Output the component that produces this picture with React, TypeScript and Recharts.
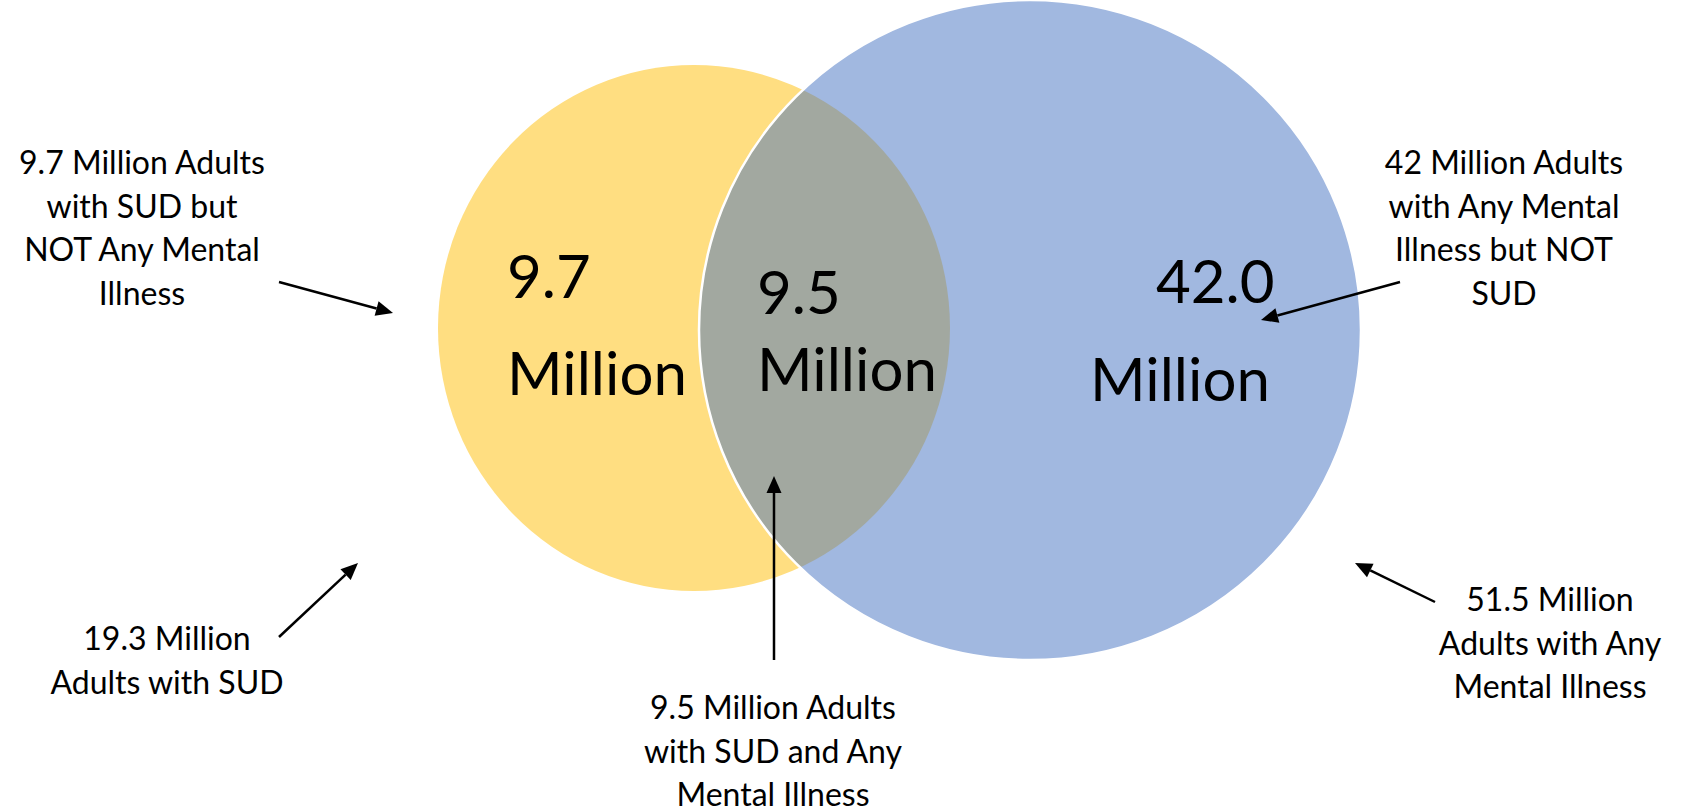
import React from 'react';
import { ScatterChart, Scatter, XAxis, YAxis } from 'recharts';

const W = 1683;
const H = 806;
const FONT = 'Lato, "Open Sans", sans-serif';

// Venn sets: SUD (yellow) and Any Mental Illness (blue)
const setNames = ['SUD', 'Any Mental Illness'];
const setCx = [694, 1030];
const setCy = [328, 330];
const setRx = [256, 331];
const setRy = [263, 330];
const setColors = ['#FFDE81', '#A1B8E0'];
const overlapColor = '#A2A8A0';

// Values shown inside regions
const regionValues = ['9.7', '9.5', '42.0'];
const regionUnit = 'Million';
const regionValueX = [507, 757, 1156];
const regionValueY = [298, 314, 303];
const regionUnitX = [507, 757, 1090];
const regionUnitY = [395, 391, 401];
const regionFont = [60, 60, 60];

// Callout labels
const calloutLines = [
  ['9.7 Million Adults', 'with SUD but', 'NOT Any Mental', 'Illness'],
  ['19.3 Million', 'Adults with SUD'],
  ['9.5 Million Adults', 'with SUD and Any', 'Mental Illness'],
  ['42 Million Adults', 'with Any Mental', 'Illness but NOT', 'SUD'],
  ['51.5 Million', 'Adults with Any', 'Mental Illness'],
];
const calloutX = [142, 167, 773, 1504, 1550];
const calloutY = [174, 650, 719, 174, 611];

// Arrows: tail -> tip
const arrowTailX = [279, 279, 774, 1400, 1435];
const arrowTailY = [282, 637, 660, 282, 602];
const arrowTipX = [393, 358, 774, 1261, 1355];
const arrowTipY = [313, 563, 476, 320, 563];

const setData = setNames.map((name, i) => ({
  name, x: setCx[i], y: setCy[i], rx: setRx[i], ry: setRy[i], fill: setColors[i],
}));
const overlapData = [{
  x: setCx[0], y: setCy[0], rx: setRx[0], ry: setRy[0],
  ox: setCx[1], oy: setCy[1], orx: setRx[1], ory: setRy[1],
}];
const outlineData = [setData[1]];
const valueData = regionValues.map((v, i) => ({
  x: regionValueX[i], y: regionValueY[i], text: v, size: regionFont[i],
}));
const unitData = regionValues.map((v, i) => ({
  x: regionUnitX[i], y: regionUnitY[i], text: regionUnit, size: regionFont[i],
}));
const calloutData = calloutLines.map((lines, i) => ({
  x: calloutX[i], y: calloutY[i], lines,
}));
const arrowData = arrowTailX.map((x, i) => ({
  x, y: arrowTailY[i], tx: arrowTipX[i], ty: arrowTipY[i],
}));

const SetShape = (p: any) => (
  <ellipse cx={p.cx} cy={p.cy} rx={p.payload.rx} ry={p.payload.ry} fill={p.payload.fill} />
);

const OverlapShape = (p: any) => {
  const d = p.payload;
  const ocx = p.cx + (d.ox - d.x);
  const ocy = p.cy + (d.oy - d.y);
  return (
    <g>
      <defs>
        <clipPath id="venn-overlap-clip">
          <ellipse cx={ocx} cy={ocy} rx={d.orx} ry={d.ory} />
        </clipPath>
      </defs>
      <ellipse cx={p.cx} cy={p.cy} rx={d.rx} ry={d.ry} fill={overlapColor} clipPath="url(#venn-overlap-clip)" />
    </g>
  );
};

const OutlineShape = (p: any) => (
  <ellipse cx={p.cx} cy={p.cy} rx={p.payload.rx} ry={p.payload.ry} fill="none" stroke="#FFFFFF" strokeWidth={2.5} />
);

const BigTextShape = (p: any) => (
  <text x={p.cx} y={p.cy} fontFamily={FONT} fontSize={p.payload.size} fill="#000" textAnchor="start">
    {p.payload.text}
  </text>
);

const CalloutShape = (p: any) => (
  <text x={p.cx} y={p.cy} fontFamily={FONT} fontSize={32} fill="#000" textAnchor="middle">
    {p.payload.lines.map((l: string, i: number) => (
      <tspan key={i} x={p.cx} dy={i === 0 ? 0 : 43.5}>{l}</tspan>
    ))}
  </text>
);

const ArrowShape = (p: any) => {
  const d = p.payload;
  const x1 = p.cx;
  const y1 = p.cy;
  const x2 = p.cx + (d.tx - d.x);
  const y2 = p.cy + (d.ty - d.y);
  const len = Math.hypot(x2 - x1, y2 - y1);
  const ux = (x2 - x1) / len;
  const uy = (y2 - y1) / len;
  const hl = 17;
  const hw = 7.5;
  const bx = x2 - ux * hl;
  const by = y2 - uy * hl;
  const pts = `${x2},${y2} ${bx - uy * hw},${by + ux * hw} ${bx + uy * hw},${by - ux * hw}`;
  return (
    <g>
      <line x1={x1} y1={y1} x2={bx} y2={by} stroke="#000" strokeWidth={2.5} />
      <polygon points={pts} fill="#000" />
    </g>
  );
};

export default function App() {
  return (
    <div style={{ position: 'absolute', left: 0, top: 0, width: W, height: H, background: '#fff' }}>
      <ScatterChart width={W} height={H} margin={{ top: 0, right: 0, bottom: 0, left: 0 }}>
        <XAxis type="number" dataKey="x" domain={[0, W]} hide allowDataOverflow />
        <YAxis type="number" dataKey="y" domain={[0, H]} reversed hide allowDataOverflow />
        <Scatter data={setData} shape={SetShape} isAnimationActive={false} />
        <Scatter data={overlapData} shape={OverlapShape} isAnimationActive={false} />
        <Scatter data={outlineData} shape={OutlineShape} isAnimationActive={false} />
        <Scatter data={valueData} shape={BigTextShape} isAnimationActive={false} />
        <Scatter data={unitData} shape={BigTextShape} isAnimationActive={false} />
        <Scatter data={calloutData} shape={CalloutShape} isAnimationActive={false} />
        <Scatter data={arrowData} shape={ArrowShape} isAnimationActive={false} />
      </ScatterChart>
    </div>
  );
}
